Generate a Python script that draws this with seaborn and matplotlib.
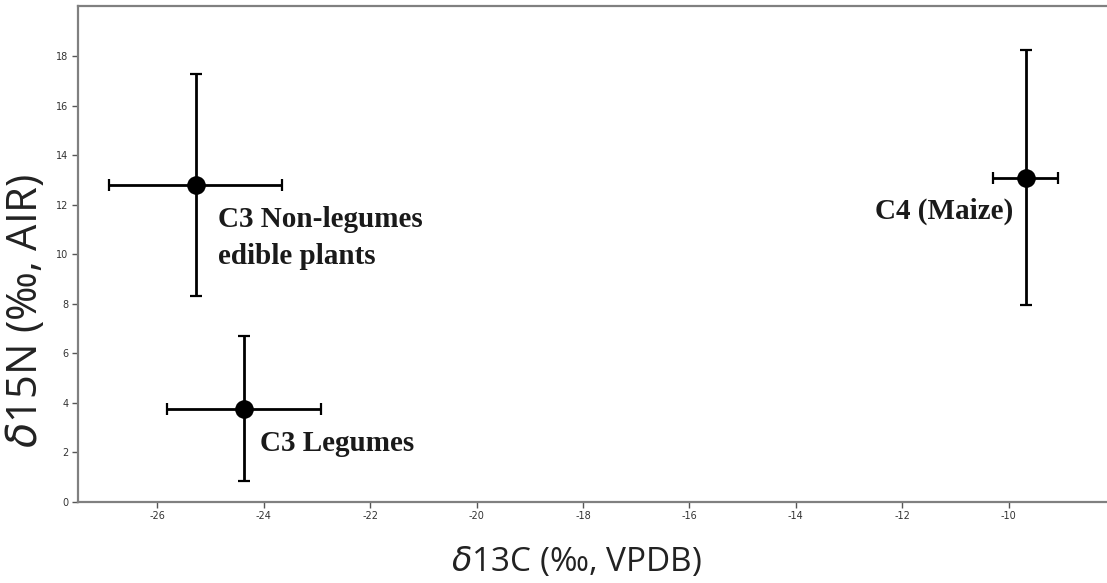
import matplotlib
matplotlib.use("Agg")
import matplotlib.pyplot as plt
import seaborn as sns
import pandas as pd

groups = ["C3 Non-legumes\nedible plants", "C3 Legumes", "C4 (Maize)"]
d13c = [-25.28, -24.37, -9.68]
d15n = [12.8, 3.75, 13.1]
d13c_sd = [1.63, 1.44, 0.61]
d15n_sd = [4.47, 2.93, 5.14]
label_x = [-24.86, -24.06, -9.92]
label_y = [10.66, 2.37, 11.72]
label_ha = ["left", "left", "right"]
xticks = [-26, -24, -22, -20, -18, -16, -14, -12, -10]
yticks = [0, 2, 4, 6, 8, 10, 12, 14, 16, 18]

df = pd.DataFrame({"group": groups, "d13c": d13c, "d15n": d15n,
                   "sx": d13c_sd, "sy": d15n_sd})

sns.set_style("white")
fig = plt.figure(figsize=(11.07, 5.83), dpi=100)
ax = fig.add_axes([78 / 1107, 1 - 501.7 / 583, 1 - 78 / 1107, (501.7 - 6) / 583])

ax.errorbar(df["d13c"], df["d15n"], xerr=df["sx"], yerr=df["sy"], fmt="none",
            ecolor="black", elinewidth=2, capsize=4, capthick=1.6, zorder=2)
sns.scatterplot(data=df, x="d13c", y="d15n", color="black", s=180,
                edgecolor="black", linewidth=0, ax=ax, zorder=3, legend=False)

for lbl, tx, ty, ha in zip(groups, label_x, label_y, label_ha):
    ax.text(tx, ty, lbl, ha=ha, va="center", fontsize=21, fontweight="bold",
            family="Liberation Serif", color="#1a1a1a", linespacing=1.5)

ax.set_xlim(-27.49, -8.15)
ax.set_ylim(0, 20.03)
ax.set_xticks(xticks)
ax.set_yticks(yticks)
ax.set_xticklabels([str(v) for v in xticks])
ax.set_yticklabels([str(v) for v in yticks])
ax.tick_params(axis="both", labelsize=7, colors="#555555", length=4, width=1,
               direction="out", bottom=True, left=True, pad=3)
for lab in ax.get_xticklabels() + ax.get_yticklabels():
    lab.set_color("#333333")

for side in ["left", "bottom", "top"]:
    ax.spines[side].set_color("#808080")
    ax.spines[side].set_linewidth(1.6)
ax.spines["right"].set_visible(False)

ax.set_xlabel(r"$\delta$13C (‰, VPDB)", fontsize=24, family="Open Sans",
              color="#222222")
ax.set_ylabel(r"$\delta$15N (‰, AIR)", fontsize=30, family="Open Sans",
              color="#222222")
ax.xaxis.set_label_coords(0.484, -0.088)
ax.yaxis.set_label_coords(-0.03, 0.385)

fig.savefig("out.png", dpi=100)
